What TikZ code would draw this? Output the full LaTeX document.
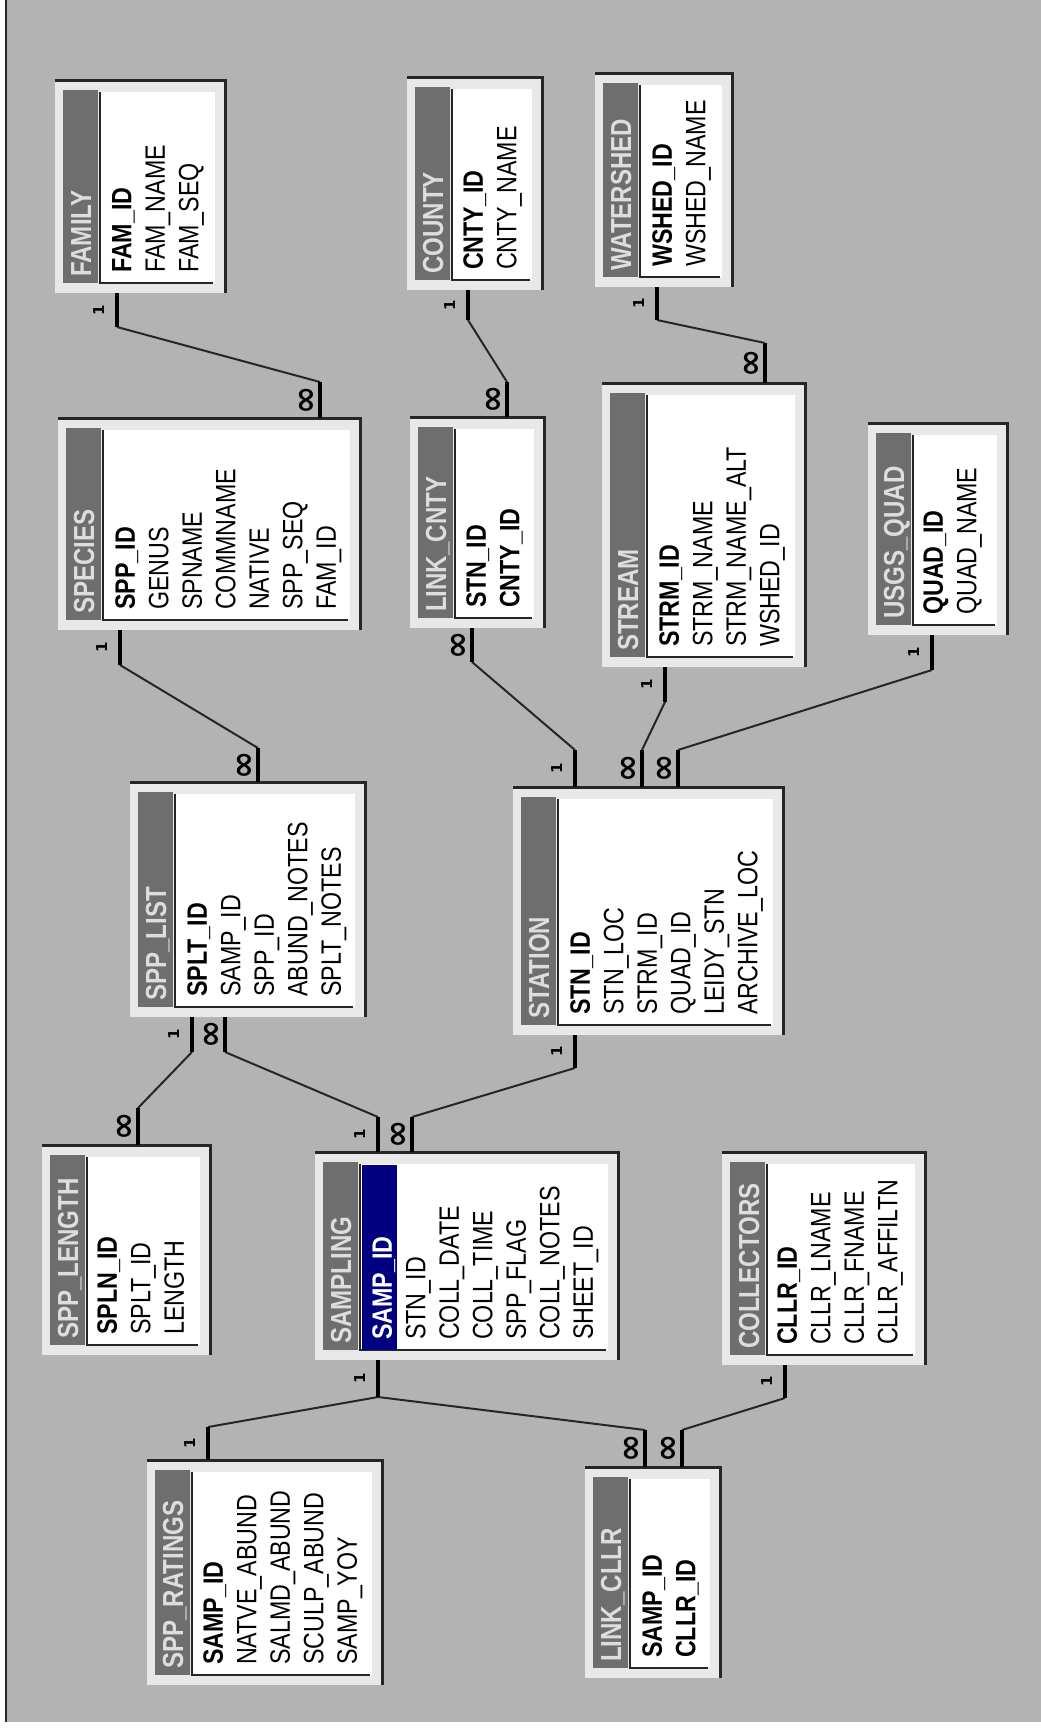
\documentclass[tikz,border=0pt]{standalone}
\usepackage{fontspec}
\newfontfamily\tblfont[FakeStretch=0.83]{Liberation Sans}
\newfontfamily\lblfont{DejaVu Sans}

\definecolor{bggray}{HTML}{B3B3B3}
\definecolor{framegray}{HTML}{E8E8E8}
\definecolor{edgegray}{HTML}{262626}
\definecolor{bargray}{HTML}{6E6E6E}
\definecolor{bartext}{HTML}{DDDDDD}
\definecolor{keysel}{HTML}{000080}

% window of one table: left, top, right, bottom (pixels)
\newcommand{\dbframe}[4]{%
  \fill[tblframe] (#1,#2) rectangle (#3,#4);
  \draw[tbledge] (#1,#2) -- (#3,#2) -- (#3,#4);
  \fill[tblbar] (#1+8,#2+10) rectangle (#1+43,#4-10);
  \fill[white] (#1+45,#2+12) rectangle (#3-10,#4-10);
  \draw[tblinner] (#1+45,#2+12) -- (#1+45,#4-10) -- (#3-12,#4-10);
}

\begin{document}
\begin{tikzpicture}[x=1pt,y=-1pt,
  tblframe/.style={fill=framegray},
  tbledge/.style={draw=edgegray,line width=3pt},
  tblbar/.style={fill=bargray},
  tblinner/.style={draw=edgegray,line width=2.5pt},
  tbltitle/.style={rotate=90,anchor=base west,inner sep=0pt,text=bartext,
    font=\tblfont\bfseries\fontsize{29}{29}\selectfont},
  tblfields/.style={rotate=90,anchor=north west,inner sep=0pt,align=left,
    font=\tblfont\fontsize{28}{33.5}\selectfont},
  stub/.style={draw=black,line width=4pt},
  link/.style={draw=edgegray,line width=2pt},
  one/.style={rotate=90,anchor=south,inner xsep=0pt,inner ysep=11pt,
    font=\lblfont\bfseries\fontsize{15}{15}\selectfont},
  many/.style={rotate=90,anchor=south,inner xsep=0pt,inner ysep=2pt,
    font=\lblfont\bfseries\fontsize{34}{34}\selectfont}]
\useasboundingbox (0,0) rectangle (1041,1729);
\fill[white] (0,0) rectangle (1041,1729);
\fill[bggray] (7,0) rectangle (1041,1722);
\draw[edgegray,line width=2.5pt] (6,0) -- (6,1722);

% tables
\dbframe{55}{80}{225}{293}
\node[tbltitle] (family-title) at (91,277) {FAMILY};
\node[tblfields] (family) at (112,273) {\textbf{FAM\_ID}\\FAM\_NAME\\FAM\_SEQ};

\dbframe{407}{77}{542}{290}
\node[tbltitle] (county-title) at (443,274) {COUNTY};
\node[tblfields] (county) at (463,270) {\textbf{CNTY\_ID}\\CNTY\_NAME};

\dbframe{595}{73}{732}{287}
\node[tbltitle] (watershed-title) at (631,271) {WATERSHED};
\node[tblfields] (watershed) at (652,267) {\textbf{WSHED\_ID}\\WSHED\_NAME};

\dbframe{58}{418}{360}{630}
\node[tbltitle] (species-title) at (94,614) {SPECIES};
\node[tblfields] (species) at (115,610) {\textbf{SPP\_ID}\\GENUS\\SPNAME\\COMMNAME\\NATIVE\\SPP\_SEQ\\FAM\_ID};

\dbframe{410}{417}{544}{628}
\node[tbltitle] (linkcnty-title) at (446,612) {LINK\_CNTY};
\node[tblfields] (linkcnty) at (466,608) {\textbf{STN\_ID}\\\textbf{CNTY\_ID}};

\dbframe{602}{383}{805}{667}
\node[tbltitle] (stream-title) at (638,651) {STREAM};
\node[tblfields] (stream) at (659,647) {\textbf{STRM\_ID}\\STRM\_NAME\\STRM\_NAME\_ALT\\WSHED\_ID};

\dbframe{868}{423}{1007}{635}
\node[tbltitle] (quad-title) at (904,619) {USGS\_QUAD};
\node[tblfields] (quad) at (923,615) {\textbf{QUAD\_ID}\\QUAD\_NAME};

\dbframe{130}{782}{365}{1017}
\node[tbltitle] (spplist-title) at (166,1001) {SPP\_LIST};
\node[tblfields] (spplist) at (187,997) {\textbf{SPLT\_ID}\\SAMP\_ID\\SPP\_ID\\ABUND\_NOTES\\SPLT\_NOTES};

\dbframe{513}{787}{783}{1035}
\node[tbltitle] (station-title) at (549,1019) {STATION};
\node[tblfields] (station) at (570,1015) {\textbf{STN\_ID}\\STN\_LOC\\STRM\_ID\\QUAD\_ID\\LEIDY\_STN\\ARCHIVE\_LOC};

\dbframe{42}{1145}{210}{1355}
\node[tbltitle] (spplength-title) at (78,1339) {SPP\_LENGTH};
\node[tblfields] (spplength) at (97,1335) {\textbf{SPLN\_ID}\\SPLT\_ID\\LENGTH};

\dbframe{315}{1152}{618}{1360}
\fill[keysel] (362,1165) rectangle (397,1350);
\node[tbltitle] (sampling-title) at (351,1344) {SAMPLING};
\node[tblfields] (sampling) at (372,1340) {\textcolor{white}{\textbf{SAMP\_ID}}\\STN\_ID\\COLL\_DATE\\COLL\_TIME\\SPP\_FLAG\\COLL\_NOTES\\SHEET\_ID};

\dbframe{722}{1152}{925}{1365}
\node[tbltitle] (collectors-title) at (759,1349) {COLLECTORS};
\node[tblfields] (collectors) at (777,1345) {\textbf{CLLR\_ID}\\CLLR\_LNAME\\CLLR\_FNAME\\CLLR\_AFFILTN};

\dbframe{147}{1460}{382}{1685}
\node[tbltitle] (ratings-title) at (183,1669) {SPP\_RATINGS};
\node[tblfields] (ratings) at (203,1665) {\textbf{SAMP\_ID}\\NATVE\_ABUND\\SALMD\_ABUND\\SCULP\_ABUND\\SAMP\_YOY};

\dbframe{585}{1467}{720}{1678}
\node[tbltitle] (linkcllr-title) at (621,1662) {LINK\_CLLR};
\node[tblfields] (linkcllr) at (642,1658) {\textbf{SAMP\_ID}\\\textbf{CLLR\_ID}};

% relationship ends: on the table edge, at the elbow
\coordinate (fam-a) at (117,293);  \coordinate (fam-b) at (117,327);
\coordinate (spc-a) at (320,418);  \coordinate (spc-b) at (320,382);
\coordinate (cty-a) at (468,290);  \coordinate (cty-b) at (468,320);
\coordinate (lkc-a) at (507,417);  \coordinate (lkc-b) at (507,382);
\coordinate (wsh-a) at (657,287);  \coordinate (wsh-b) at (657,320);
\coordinate (str-a) at (765,383);  \coordinate (str-b) at (765,343);
\coordinate (spc-c) at (120,630);  \coordinate (spc-d) at (120,665);
\coordinate (spl-a) at (258,782);  \coordinate (spl-b) at (258,748);
\coordinate (lkc-c) at (472,628);  \coordinate (lkc-d) at (472,662);
\coordinate (stn-a) at (575,787);  \coordinate (stn-b) at (575,750);
\coordinate (str-c) at (665,667);  \coordinate (str-d) at (665,702);
\coordinate (stn-c) at (642,787);  \coordinate (stn-d) at (642,750);
\coordinate (qud-a) at (932,635);  \coordinate (qud-b) at (932,670);
\coordinate (stn-e) at (678,787);  \coordinate (stn-f) at (678,750);
\coordinate (spl-c) at (192,1017); \coordinate (spl-d) at (192,1052);
\coordinate (sln-a) at (138,1145); \coordinate (sln-b) at (138,1108);
\coordinate (spl-e) at (225,1017); \coordinate (spl-f) at (225,1052);
\coordinate (smp-a) at (378,1152); \coordinate (smp-b) at (378,1117);
\coordinate (smp-c) at (412,1152); \coordinate (smp-d) at (412,1117);
\coordinate (stn-g) at (575,1035); \coordinate (stn-h) at (575,1068);
\coordinate (smp-e) at (378,1360); \coordinate (smp-f) at (378,1397);
\coordinate (rat-a) at (208,1460); \coordinate (rat-b) at (208,1427);
\coordinate (lkl-a) at (645,1467); \coordinate (lkl-b) at (645,1430);
\coordinate (col-a) at (785,1365); \coordinate (col-b) at (785,1398);
\coordinate (lkl-c) at (682,1467); \coordinate (lkl-d) at (682,1430);

% relationships
\draw[link] (fam-b) -- (spc-b);
\draw[link] (cty-b) -- (lkc-b);
\draw[link] (wsh-b) -- (str-b);
\draw[link] (spc-d) -- (spl-b);
\draw[link] (lkc-d) -- (stn-b);
\draw[link] (str-d) -- (stn-d);
\draw[link] (qud-b) -- (stn-f);
\draw[link] (spl-d) -- (sln-b);
\draw[link] (spl-f) -- (smp-b);
\draw[link] (smp-d) -- (stn-h);
\draw[link] (smp-f) -- (rat-b);
\draw[link] (smp-f) -- (lkl-b);
\draw[link] (col-b) -- (lkl-d);

\draw[stub] (fam-a) -- node[one]{1} (fam-b);
\draw[stub] (spc-a) -- node[many]{∞} (spc-b);
\draw[stub] (cty-a) -- node[one]{1} (cty-b);
\draw[stub] (lkc-a) -- node[many]{∞} (lkc-b);
\draw[stub] (wsh-a) -- node[one]{1} (wsh-b);
\draw[stub] (str-a) -- node[many]{∞} (str-b);
\draw[stub] (spc-c) -- node[one]{1} (spc-d);
\draw[stub] (spl-a) -- node[many]{∞} (spl-b);
\draw[stub] (lkc-c) -- node[many]{∞} (lkc-d);
\draw[stub] (stn-a) -- node[one]{1} (stn-b);
\draw[stub] (str-c) -- node[one]{1} (str-d);
\draw[stub] (stn-c) -- node[many]{∞} (stn-d);
\draw[stub] (qud-a) -- node[one]{1} (qud-b);
\draw[stub] (stn-e) -- node[many]{∞} (stn-f);
\draw[stub] (spl-c) -- node[one]{1} (spl-d);
\draw[stub] (sln-a) -- node[many]{∞} (sln-b);
\draw[stub] (spl-e) -- node[many]{∞} (spl-f);
\draw[stub] (smp-a) -- node[one]{1} (smp-b);
\draw[stub] (smp-c) -- node[many]{∞} (smp-d);
\draw[stub] (stn-g) -- node[one]{1} (stn-h);
\draw[stub] (smp-e) -- node[one]{1} (smp-f);
\draw[stub] (rat-a) -- node[one]{1} (rat-b);
\draw[stub] (lkl-a) -- node[many]{∞} (lkl-b);
\draw[stub] (col-a) -- node[one]{1} (col-b);
\draw[stub] (lkl-c) -- node[many]{∞} (lkl-d);
\end{tikzpicture}
\end{document}
